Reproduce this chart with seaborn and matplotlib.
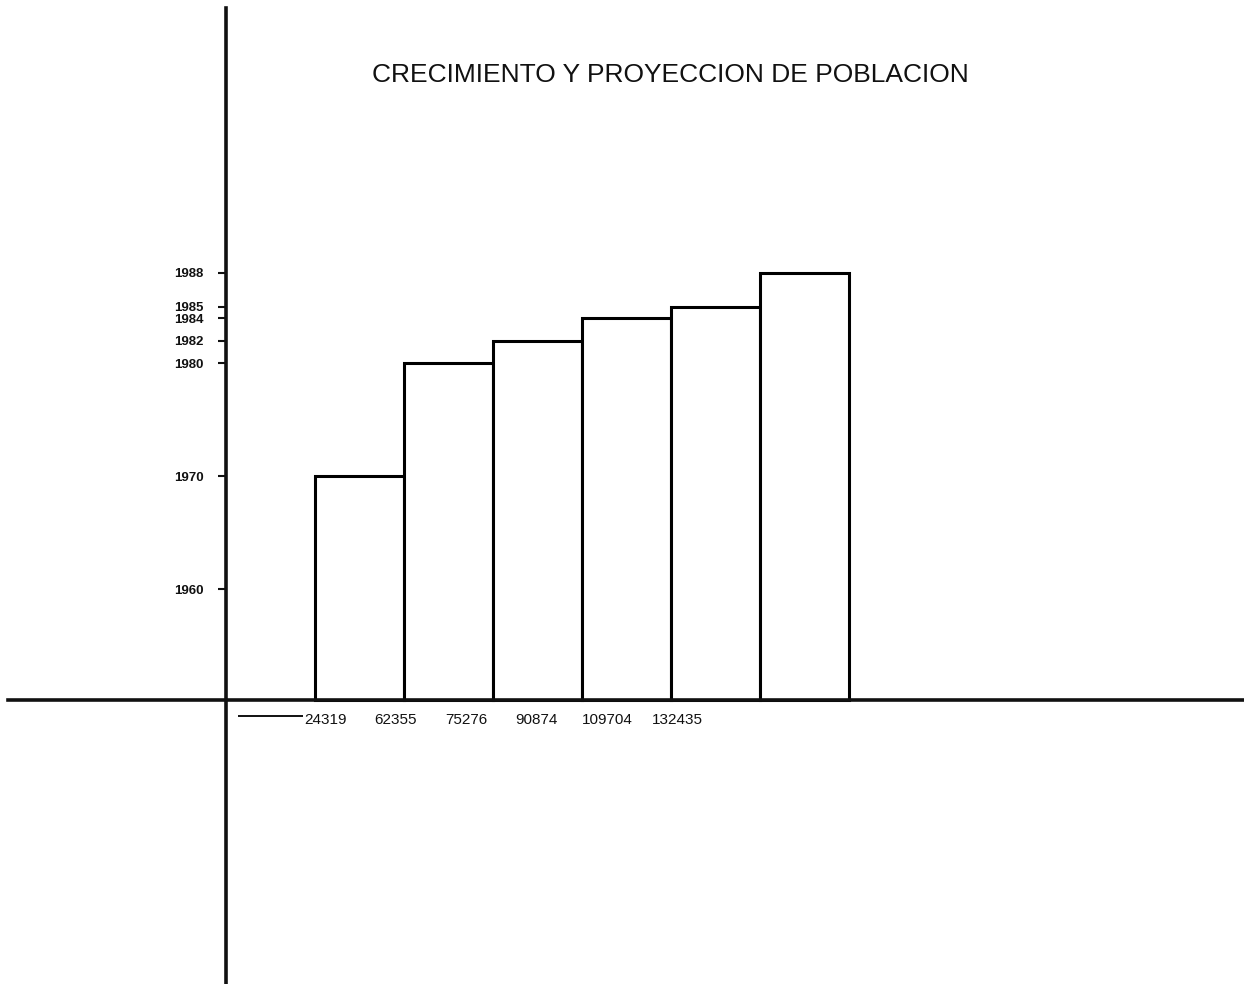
#! /usr/bin/env python3

"""Crecimiento y proyeccion de poblacion: bar chart redrawn from a scanned plate."""

import matplotlib.pyplot as plt
import numpy as np
import pandas as pd
import seaborn as sns

# population counts written under the bars
poblacion = ["24319", "62355", "75276", "90874", "109704", "132435"]
# year each bar reaches
anios = [1970, 1980, 1982, 1984, 1985, 1988]
# years marked on the vertical axis
anios_eje = [1960, 1970, 1980, 1982, 1984, 1985, 1988]

BASE = 1950.2  # year at the horizontal axis

data = pd.DataFrame({"poblacion": poblacion, "anio": anios})
data["alto"] = data["anio"] - BASE

sns.set_style("white")
plt.rcParams["font.family"] = ["Liberation Sans", "DejaVu Sans"]

fig = plt.figure(figsize=(12.44, 9.84), dpi=100)
ax = fig.add_axes([0, 0, 1, 1])

sns.barplot(data=data, x="poblacion", y="alto", bottom=BASE, width=1.0,
            color="white", edgecolor="black", linewidth=2.2, ax=ax)

ax.set_xlim(-4.04, 9.94)
ax.set_ylim(1925.07, 2012.15)

# axes cross like the drawn plate
for side in ["top", "right"]:
    ax.spines[side].set_visible(False)
ax.spines["left"].set_position(("data", -1.5))
ax.spines["left"].set_bounds(1925.07, 2011.4)
ax.spines["bottom"].set_position(("data", BASE))
ax.spines["bottom"].set_bounds(-3.95, 9.94)
for side in ["left", "bottom"]:
    ax.spines[side].set_linewidth(2.6)
    ax.spines[side].set_color("#111111")

ax.set_yticks(anios_eje)
ax.set_yticklabels([str(a) for a in anios_eje], fontsize=9.5,
                   fontweight="bold")
ax.tick_params(axis="y", left=True, direction="out", length=6, width=1.5,
               pad=10, colors="#111111")

# labels are hand lettered and do not sit under the bar centres
label_pos = -0.38 + 0.79 * np.arange(len(poblacion))
ax.set_xticks(label_pos)
ax.set_xticklabels(poblacion, fontsize=11)
ax.tick_params(axis="x", bottom=False, length=0, pad=9, colors="#111111")

# short dash at the start of the label row
ax.hlines(BASE - 1.4, -1.37, -0.63, color="#111111", linewidth=1.4)

ax.set_xlabel("")
ax.set_ylabel("")

fig.text(0.539, 0.924, "CRECIMIENTO Y PROYECCION DE POBLACION",
         ha="center", va="center", fontsize=19, color="#111111")

plt.savefig("out.png", dpi=100)
plt.close()
